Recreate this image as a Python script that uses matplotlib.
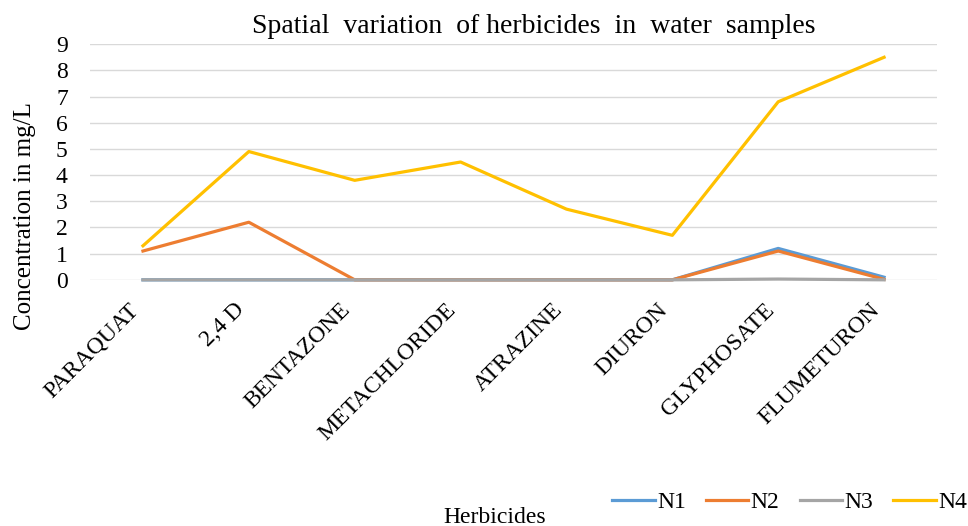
import matplotlib
matplotlib.use("Agg")
import matplotlib.pyplot as plt

herbicides = ["PARAQUAT", "2,4 D", "BENTAZONE", "METACHLORIDE",
              "ATRAZINE", "DIURON", "GLYPHOSATE", "FLUMETURON"]
n1 = [0, 0, 0, 0, 0, 0, 1.2, 0.1]
n2 = [1.1, 2.2, 0, 0, 0, 0, 1.1, 0.02]
n3 = [0, 0, 0, 0, 0, 0, 0.03, 0]
n4 = [1.3, 4.9, 3.8, 4.5, 2.7, 1.7, 6.8, 8.5]

series = [("N1", n1, "#5B9BD5"), ("N2", n2, "#ED7D31"),
          ("N3", n3, "#A5A5A5"), ("N4", n4, "#FFC000")]

plt.rcParams["font.family"] = ["Liberation Serif", "DejaVu Serif"]

fig = plt.figure(figsize=(9.68, 5.26), dpi=100)
ax = fig.add_axes([0.093, 0.468, 0.875, 0.448])

x = list(range(len(herbicides)))
for name, vals, col in series:
    ax.plot(x, vals, color=col, lw=2.3, label=name, clip_on=False)

ax.set_xlim(-0.5, len(herbicides) - 0.5)
ax.set_ylim(0, 9)
ax.set_yticks(range(0, 10))
ax.yaxis.grid(True, color="#D9D9D9", lw=1)
ax.set_axisbelow(True)
for s in ax.spines.values():
    s.set_visible(False)
ax.tick_params(axis="both", length=0, labelsize=17)
ax.tick_params(axis="y", pad=16)
ax.set_xticks(x)
ax.set_xticklabels(herbicides, rotation=45, ha="right", va="top")
ax.tick_params(axis="x", pad=14)

# title sits a bit right of the axes centre, like the original
fig.text(534 / 968, 1 - 33 / 526,
         "Spatial  variation  of herbicides  in  water  samples",
         fontsize=20, ha="center", va="baseline")
ax.set_ylabel("Concentration in mg/L", fontsize=18)
ax.yaxis.set_label_coords(-0.064, 0.27)
fig.text(0.511, 3 / 526, "Herbicides", fontsize=17, ha="center",
         va="baseline")

fig.legend(*ax.get_legend_handles_labels(), loc="center right",
           bbox_to_anchor=(0.999, 1 - 502 / 526), ncol=4, frameon=False,
           fontsize=17, handlelength=1.8, handletextpad=0.1,
           columnspacing=0.85, borderpad=0, borderaxespad=0)

fig.savefig("out.png", dpi=100)
